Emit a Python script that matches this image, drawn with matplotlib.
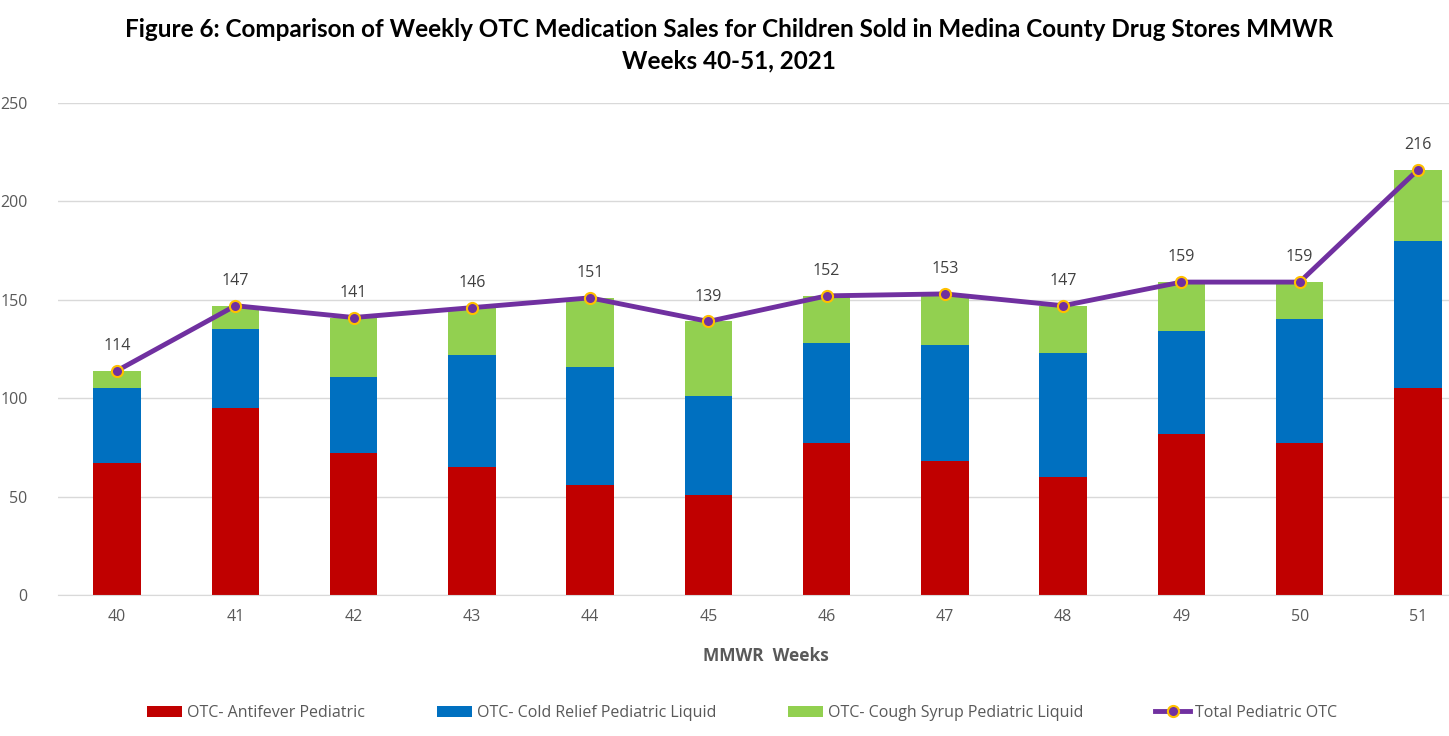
import matplotlib.pyplot as plt
import numpy as np

weeks = ['40', '41', '42', '43', '44', '45', '46', '47', '48', '49', '50', '51']
antifever = [67, 95, 72, 65, 56, 51, 77, 68, 60, 82, 77, 105]
cold = [38, 40, 39, 57, 60, 50, 51, 59, 63, 52, 63, 75]
total = [114, 147, 141, 146, 151, 139, 152, 153, 147, 159, 159, 216]
cough = [t - a - c for t, a, c in zip(total, antifever, cold)]

plt.rcParams['font.family'] = ['Open Sans', 'DejaVu Sans']

fig = plt.figure(figsize=(14.49, 7.36), dpi=100)
ax = fig.add_axes([58/1449, 1-595/736, 1419/1449, 492/736])

x = np.arange(len(weeks))
w = 0.4
ax.bar(x, antifever, w, color='#C00000', label='OTC- Antifever Pediatric', zorder=2)
ax.bar(x, cold, w, bottom=antifever, color='#0070C0', label='OTC- Cold Relief Pediatric Liquid', zorder=2)
bot2 = [a + c for a, c in zip(antifever, cold)]
ax.bar(x, cough, w, bottom=bot2, color='#92D050', label='OTC- Cough Syrup Pediatric Liquid', zorder=2)
ax.plot(x, total, color='#7030A0', lw=3.5, marker='o', ms=8, mfc='#7030A0',
        mec='#FFC000', mew=1.5, label='Total Pediatric OTC', zorder=3)

for xi, t in zip(x, total):
    ax.annotate(str(t), (xi, t), xytext=(0, 12), textcoords='offset points',
                ha='center', va='bottom', fontsize=11.5, color='#404040')

ax.set_xlim(-0.5, 11.5)
ax.set_ylim(0, 250)
ax.set_yticks(range(0, 251, 50))
ax.set_xticks(x)
ax.set_xticklabels(weeks)
ax.yaxis.grid(True, color='#D9D9D9', lw=1)
ax.set_axisbelow(True)
for s in ['top', 'right', 'left']:
    ax.spines[s].set_visible(False)
ax.spines['bottom'].set_color('#D9D9D9')
ax.tick_params(length=0, labelsize=11.5, labelcolor='#595959', pad=10)
ax.tick_params(axis='y', pad=22)

fig.text(766/1449, 1-656/736, 'MMWR  Weeks', ha='center', va='center',
         fontsize=12.5, fontweight='bold', color='#595959')

fig.text(729/1449, 1-45/736, 'Figure 6: Comparison of Weekly OTC Medication Sales for Children Sold in Medina County Drug Stores MMWR\nWeeks 40-51, 2021',
         ha='center', va='center', fontsize=17.5, fontweight='bold', color='black',
         linespacing=1.45, family=['Lato', 'DejaVu Sans'])

h, l = ax.get_legend_handles_labels()
order = [1, 2, 3, 0]
fig.legend([h[i] for i in order], [l[i] for i in order], loc='center',
           bbox_to_anchor=(742/1449, 1-713/736), ncol=4, frameon=False,
           fontsize=11.5, labelcolor='#595959', columnspacing=4.5, handlelength=2.2,
           handletextpad=0.3)

fig.savefig('out.png', dpi=100)
